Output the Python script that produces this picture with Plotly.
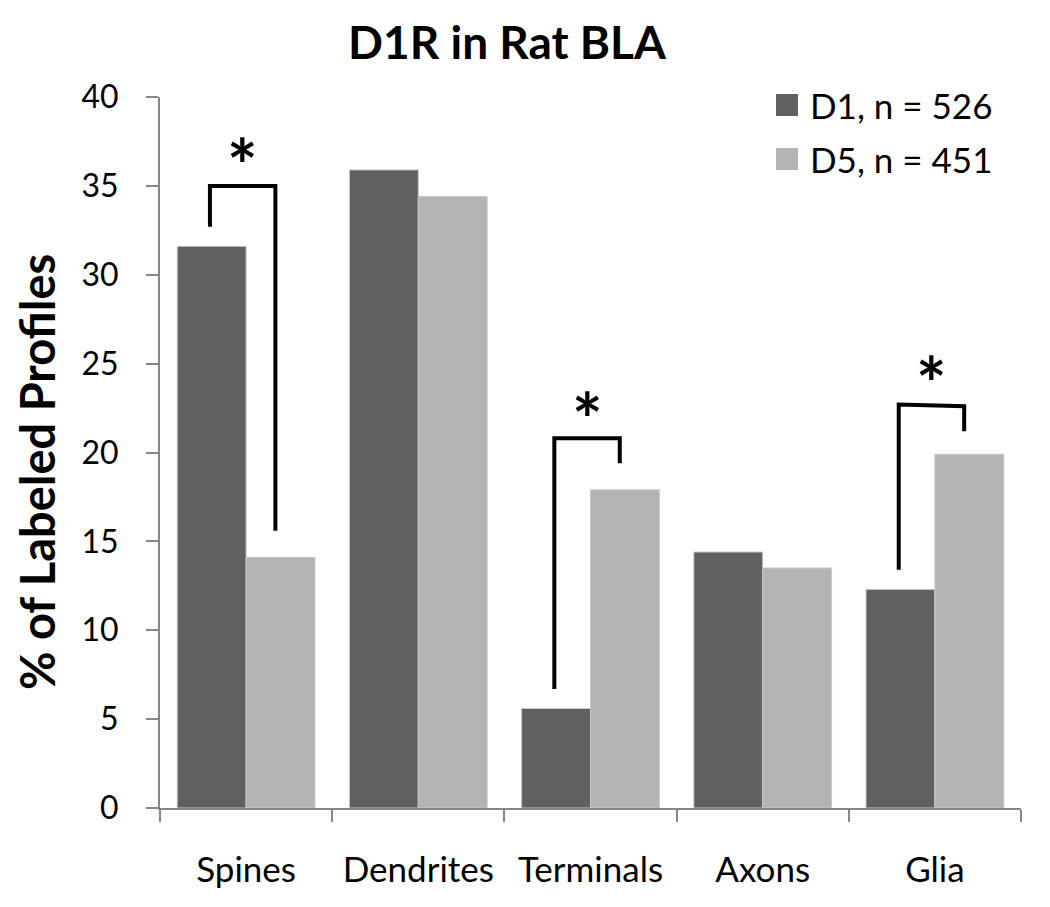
import plotly.graph_objects as go

categories = ["Spines", "Dendrites", "Terminals", "Axons", "Glia"]
series_names = ["D1, n = 526", "D5, n = 451"]
d1_values = [31.6, 35.9, 5.6, 14.4, 12.3]
d5_values = [14.1, 34.4, 17.9, 13.5, 19.9]
colors = ["#606060", "#b3b3b3"]
y_ticks = [0, 5, 10, 15, 20, 25, 30, 35, 40]
y_title = "% of Labeled Profiles"
chart_title = "D1R in Rat BLA"

# significance brackets
sig_cat = [0, 2, 4]
sig_left_bottom = [32.7, 6.7, 13.4]
sig_top_left = [35.0, 20.8, 22.7]
sig_top_right = [35.0, 20.8, 22.6]
sig_right_bottom = [15.6, 19.4, 21.2]
sig_star_y = [36.2, 21.9, 23.9]

FONT = "Lato"
OFF = 8  # page body offset

# target pixel geometry (in the screenshot)
PL, PR, PT, PB = 160, 1021, 97, 808
W, H = 1050, 907

fig = go.Figure()
for name, vals, col in zip(series_names, [d1_values, d5_values], colors):
    fig.add_trace(go.Bar(
        x=categories, y=vals, name=name,
        marker=dict(color=col, line=dict(color="#c8c8c8", width=1)),
        showlegend=False,
    ))

shapes = []
annotations = []
for c, lb, tl, tr, rb, sy in zip(sig_cat, sig_left_bottom, sig_top_left, sig_top_right, sig_right_bottom, sig_star_y):
    xl = c - 0.21
    xr = c + 0.17
    shapes.append(dict(
        type="path", xref="x", yref="y",
        path=f"M {xl},{lb} L {xl},{tl} L {xr},{tr} L {xr},{rb}",
        line=dict(color="black", width=4),
    ))
    annotations.append(dict(
        x=(xl + xr) / 2, y=sy, xref="x", yref="y", text="<b>*</b>",
        showarrow=False, font=dict(family=FONT, size=72, color="black"),
        yanchor="middle",
    ))


def px_x(p):
    return (p - PL) / (PR - PL)


def px_y(p):
    return (PB - p) / (PB - PT)


# legend drawn manually
leg_centers = [105, 159]
for name, col, cy in zip(series_names, colors, leg_centers):
    shapes.append(dict(
        type="rect", xref="paper", yref="paper",
        x0=px_x(776), x1=px_x(798), y0=px_y(cy + 11), y1=px_y(cy - 11),
        fillcolor=col, line=dict(width=0),
    ))
    annotations.append(dict(
        x=px_x(808), y=px_y(cy), xref="paper", yref="paper", text=name,
        showarrow=False, xanchor="left", yanchor="middle",
        font=dict(family=FONT, size=35, color="black"),
    ))

# y-axis title as annotation (sits slightly below plot centre in the reference)
annotations.append(dict(
    x=px_x(37), y=px_y(472), xref="paper", yref="paper",
    text=f"<b>{y_title}</b>", textangle=-90, showarrow=False,
    xanchor="center", yanchor="middle", borderpad=0,
    font=dict(family=FONT, size=47, color="black"),
))

fig.update_layout(
    width=W, height=H,
    margin=dict(l=PL - OFF, r=W + OFF - PR, t=PT - OFF, b=H + OFF - PB),
    paper_bgcolor="white", plot_bgcolor="white",
    barmode="group", bargap=0.2, bargroupgap=0,
    title=dict(text=f"<b>{chart_title}</b>", x=(507 - OFF) / W, xref="container",
               y=1 - (43 - OFF) / H, yref="container", xanchor="center", yanchor="middle",
               font=dict(family=FONT, size=46, color="black")),
    font=dict(family=FONT, color="black"),
    shapes=shapes, annotations=annotations,
)
fig.update_xaxes(
    showline=True, linecolor="#868686", linewidth=2,
    ticks="outside", ticklen=12, tickwidth=2, tickcolor="#868686",
    tickson="boundaries", showgrid=False, range=[-0.5, 4.5],
    tickfont=dict(family=FONT, size=35, color="black"),
    ticklabelstandoff=30,
)
fig.update_yaxes(
    range=[0, 40], tickvals=y_ticks, showgrid=False, zeroline=False,
    showline=True, linecolor="#868686", linewidth=2,
    ticks="outside", ticklen=12, tickwidth=2, tickcolor="#868686",
    tickfont=dict(family=FONT, size=32, color="black"),
    ticklabelstandoff=21,
)

fig.write_html("out.html")
